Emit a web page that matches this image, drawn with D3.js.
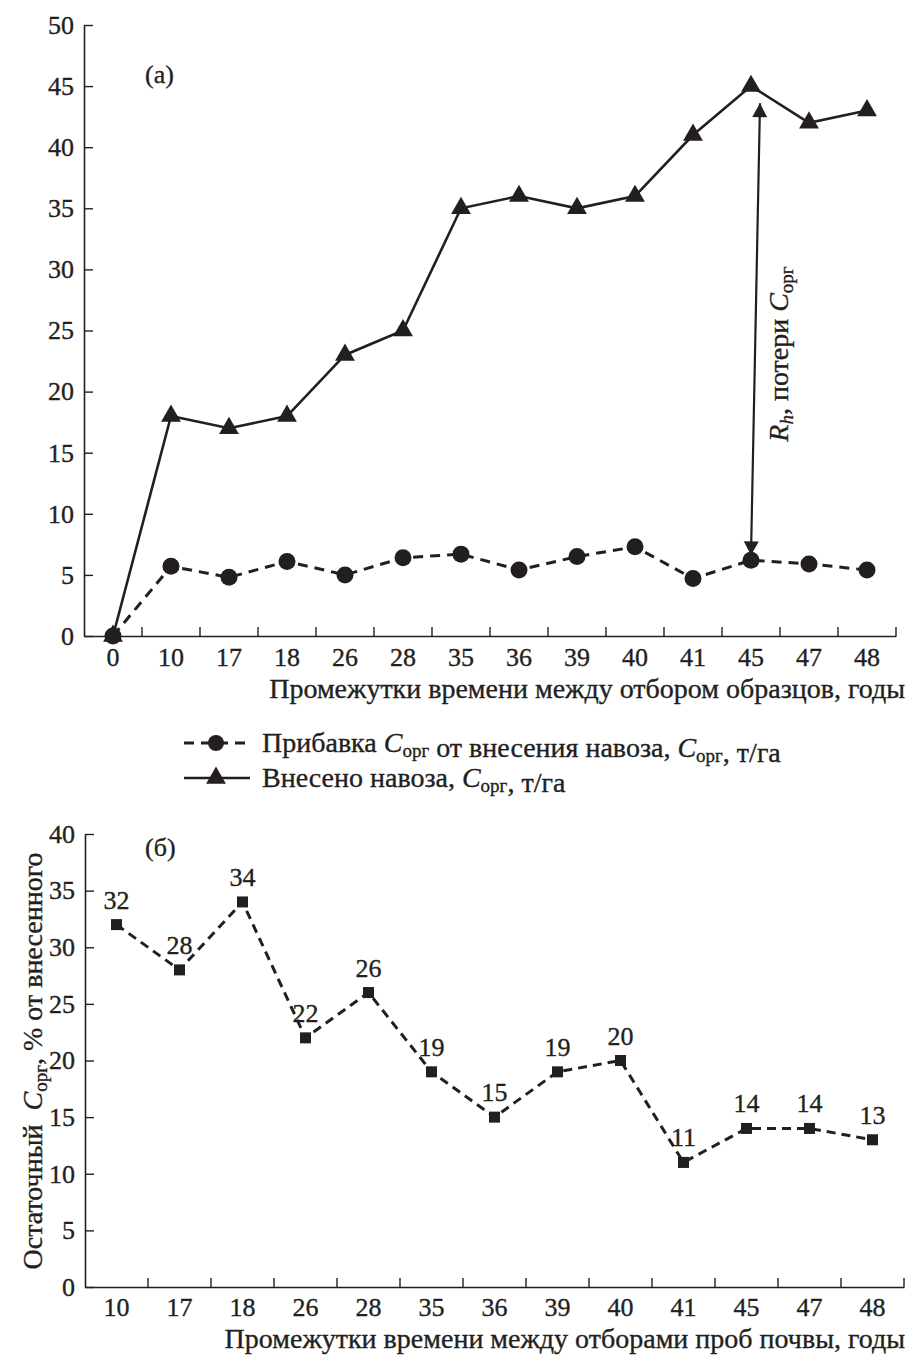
<!DOCTYPE html>
<html><head><meta charset="utf-8">
<script src="https://cdn.jsdelivr.net/npm/d3@7"></script>
<style>
body{margin:0;background:#fff}
text{font-family:"Liberation Serif","Times New Roman",serif;fill:#231f20;stroke:#231f20;stroke-width:0.35px}
</style>
</head><body>
<svg id="c" width="909" height="1355" xmlns="http://www.w3.org/2000/svg"></svg>
<script>
// ---- data: panel (а)
const catsA = ["0","10","17","18","26","28","35","36","39","40","41","45","47","48"];
const appliedA = [0,18,17,18,23,25,35,36,35,36,41,45,42,43];   // Внесено навоза
const gainA    = [0,5.7,4.8,6.1,5.0,6.4,6.7,5.4,6.5,7.3,4.7,6.2,5.9,5.4]; // Прибавка
const yTicksA  = [0,5,10,15,20,25,30,35,40,45,50];
const arrowCat = "45", arrowFrom = 6.6, arrowTo = 43.6;
// ---- data: panel (б)
const catsB  = ["10","17","18","26","28","35","36","39","40","41","45","47","48"];
const residB = [32,28,34,22,26,19,15,19,20,11,14,14,13];
const yTicksB = [0,5,10,15,20,25,30,35,40];

const INK = "#231f20";
const svg = d3.select("#c");
const TK = 26, FS = 28, SUB = 19;

// ---------- Panel A ----------
const xA = d3.scaleBand().domain(catsA).range([84, 896]);
const yA = d3.scaleLinear().domain([0, 50]).range([636, 25]);
const cxA = c => xA(c) + xA.bandwidth()/2;

function styleAxis(g){
  g.selectAll("path.domain").attr("stroke", INK).attr("stroke-width", 1.6);
  g.selectAll(".tick line").attr("stroke", INK).attr("stroke-width", 1.4);
  g.selectAll("text").attr("font-size", TK).attr("font-family", '"Liberation Serif",serif').attr("fill", INK);
}

const gyA = svg.append("g").attr("transform", "translate(84,0)")
  .call(d3.axisLeft(yA).tickValues(yTicksA).tickSizeInner(-9).tickSizeOuter(0).tickPadding(10));
styleAxis(gyA);

const gxA = svg.append("g").attr("transform", "translate(0,636)")
  .call(d3.axisBottom(xA).tickSize(0).tickPadding(12));
styleAxis(gxA);
// ticks at band boundaries (inward)
const bndA = catsA.slice(1).map(c => xA(c)).concat([xA.range()[1]]);
svg.append("g").selectAll("line").data(bndA).join("line")
  .attr("x1", d => d).attr("x2", d => d).attr("y1", 636).attr("y2", 627)
  .attr("stroke", INK).attr("stroke-width", 1.4);

// solid line with triangles
const lineA = d3.line().x((d,i) => cxA(catsA[i])).y(d => yA(d));
svg.append("path").datum(appliedA).attr("d", lineA)
  .attr("fill", "none").attr("stroke", INK).attr("stroke-width", 2.6);
const tri = d3.symbol().type(d3.symbolTriangle).size(170);
svg.append("g").selectAll("path").data(appliedA).join("path")
  .attr("d", tri).attr("transform", (d,i) => `translate(${cxA(catsA[i])},${yA(d)})`)
  .attr("fill", INK);

// dashed line with circles
svg.append("path").datum(gainA).attr("d", lineA)
  .attr("fill", "none").attr("stroke", INK).attr("stroke-width", 3).attr("stroke-dasharray", "10,7");
svg.append("g").selectAll("circle").data(gainA).join("circle")
  .attr("cx", (d,i) => cxA(catsA[i])).attr("cy", d => yA(d)).attr("r", 8.5).attr("fill", INK);

// double arrow R_h
const ax1 = cxA(arrowCat), ay1 = yA(arrowFrom);
const ax2 = cxA(arrowCat) + 9, ay2 = yA(arrowTo);
svg.append("line").attr("x1", ax1).attr("y1", ay1).attr("x2", ax2).attr("y2", ay2)
  .attr("stroke", INK).attr("stroke-width", 2.2);
function head(xt, yt, xb, yb){
  const L = 14, W = 7.5;
  const dx = xt - xb, dy = yt - yb, len = Math.hypot(dx, dy);
  const ux = dx/len, uy = dy/len;
  const bx = xt - ux*L, by = yt - uy*L;
  return `M${xt},${yt}L${bx - uy*W},${by + ux*W}L${bx + uy*W},${by - ux*W}Z`;
}
svg.append("path").attr("d", head(ax1, ay1, ax2, ay2)).attr("fill", INK);
svg.append("path").attr("d", head(ax2, ay2, ax1, ay1)).attr("fill", INK);

// rotated annotation
const ann = svg.append("text").attr("transform", `translate(${ax1 + 37},354) rotate(-90)`)
  .attr("text-anchor", "middle").attr("font-size", FS);
ann.append("tspan").attr("font-style", "italic").text("R");
ann.append("tspan").attr("font-style", "italic").attr("font-size", SUB).attr("dy", 5).text("h");
ann.append("tspan").attr("dy", -5).text(", потери ");
ann.append("tspan").attr("font-style", "italic").text("C");
ann.append("tspan").attr("font-size", SUB).attr("dy", 5).text("орг");

svg.append("text").attr("x", 145).attr("y", 83).attr("font-size", TK).text("(а)");
svg.append("text").attr("x", 905).attr("y", 698).attr("text-anchor", "end").attr("font-size", FS)
  .text("Промежутки времени между отбором образцов, годы");

// legend
const lg = svg.append("g");
lg.append("line").attr("x1", 184).attr("x2", 250).attr("y1", 743).attr("y2", 743)
  .attr("stroke", INK).attr("stroke-width", 3).attr("stroke-dasharray", "10,7");
lg.append("circle").attr("cx", 216).attr("cy", 743).attr("r", 8).attr("fill", INK);
lg.append("line").attr("x1", 184).attr("x2", 250).attr("y1", 778).attr("y2", 778)
  .attr("stroke", INK).attr("stroke-width", 2.6);
lg.append("path").attr("d", tri).attr("transform", "translate(216,778)").attr("fill", INK);
function corgText(sel, parts){
  parts.forEach(p => {
    if (p === "C") {
      sel.append("tspan").attr("font-style", "italic").text("C");
      sel.append("tspan").attr("font-size", SUB).attr("dy", 5).text("орг");
      sel.append("tspan").attr("dy", -5).text("");
    } else sel.append("tspan").text(p);
  });
}
const l1 = lg.append("text").attr("x", 262).attr("y", 752).attr("font-size", FS);
corgText(l1, ["Прибавка ", "C", " от внесения навоза, ", "C", ", т/га"]);
const l2 = lg.append("text").attr("x", 262).attr("y", 787).attr("font-size", FS);
corgText(l2, ["Внесено навоза, ", "C", ", т/га"]);

// ---------- Panel B ----------
const xB = d3.scaleBand().domain(catsB).range([85, 904]);
const yB = d3.scaleLinear().domain([0, 40]).range([1287, 834]);
const cxB = c => xB(c) + xB.bandwidth()/2;

const gyB = svg.append("g").attr("transform", "translate(85,0)")
  .call(d3.axisLeft(yB).tickValues(yTicksB).tickSizeInner(-9).tickSizeOuter(0).tickPadding(10));
styleAxis(gyB);
const gxB = svg.append("g").attr("transform", "translate(0,1287)")
  .call(d3.axisBottom(xB).tickSize(0).tickPadding(11));
styleAxis(gxB);
const bndB = catsB.slice(1).map(c => xB(c)).concat([xB.range()[1]]);
svg.append("g").selectAll("line").data(bndB).join("line")
  .attr("x1", d => d).attr("x2", d => d).attr("y1", 1287).attr("y2", 1278)
  .attr("stroke", INK).attr("stroke-width", 1.4);

const lineB = d3.line().x((d,i) => cxB(catsB[i])).y(d => yB(d));
svg.append("path").datum(residB).attr("d", lineB)
  .attr("fill", "none").attr("stroke", INK).attr("stroke-width", 3).attr("stroke-dasharray", "9,6");
svg.append("g").selectAll("rect").data(residB).join("rect")
  .attr("x", (d,i) => cxB(catsB[i]) - 5.5).attr("y", d => yB(d) - 5.5)
  .attr("width", 11).attr("height", 11).attr("fill", INK);
svg.append("g").selectAll("text").data(residB).join("text")
  .attr("x", (d,i) => cxB(catsB[i])).attr("y", d => yB(d) - 16)
  .attr("text-anchor", "middle").attr("font-size", TK).text(d => d);

svg.append("text").attr("x", 145).attr("y", 856).attr("font-size", TK).text("(б)");
svg.append("text").attr("x", 905).attr("y", 1348).attr("text-anchor", "end").attr("font-size", FS)
  .text("Промежутки времени между отборами проб почвы, годы");

const yl = svg.append("text").attr("transform", "translate(42,1061) rotate(-90)")
  .attr("text-anchor", "middle").attr("font-size", FS);
yl.append("tspan").text("Остаточный  ").attr("style", "white-space:pre");
yl.append("tspan").attr("font-style", "italic").text("C");
yl.append("tspan").attr("font-size", SUB).attr("dy", 5).text("орг");
yl.append("tspan").attr("dy", -5).text(", % от внесенного");
</script>
</body></html>
